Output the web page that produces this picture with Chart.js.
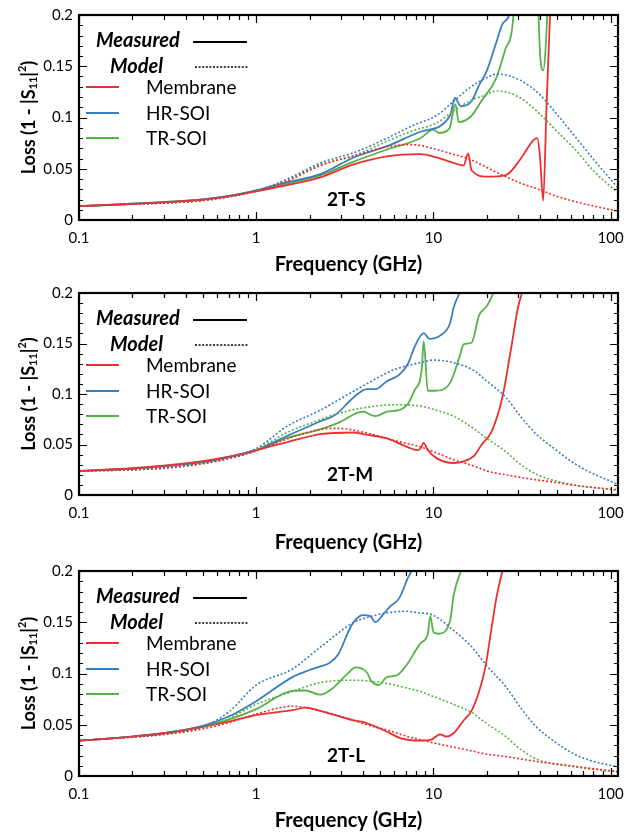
<!DOCTYPE html>
<html>
<head>
<meta charset="utf-8">
<script src="https://cdn.jsdelivr.net/npm/chart.js@4.4.1/dist/chart.umd.min.js"></script>
<style>
  html, body { margin: 0; padding: 0; background: #fff; }
  .panel { position: absolute; left: 0; width: 642px; height: 278px; }
</style>
</head>
<body>
<div class="panel" style="top:0px"><canvas id="chartS" width="642" height="278"></canvas></div>
<div class="panel" style="top:278px"><canvas id="chartM" width="642" height="278"></canvas></div>
<div class="panel" style="top:556px"><canvas id="chartL" width="642" height="278"></canvas></div>
<script>
// tick labels
const xTickLabels = [0.1, 1, 10, 100];
const yTickLabels = [0, 0.05, 0.1, 0.15, 0.2];
const seriesNames = ["Membrane", "HR-SOI", "TR-SOI"];
const seriesColors = ["#e8312f", "#3a7dbf", "#55b246"];

// ---- 2T-S ----
const sModelFreq = [0.1, 0.2, 0.3, 0.5, 0.7, 1, 1.5, 2.3, 3.55, 5.47, 7.6, 10.4, 13, 16, 18.6, 23, 31, 40, 48, 63, 81, 110];
const sModelMembrane = [0.0135, 0.0155, 0.0165, 0.019, 0.0225, 0.028, 0.038, 0.053, 0.0626, 0.0714, 0.0735, 0.0688, 0.064, 0.0594, 0.054, 0.046, 0.036, 0.0295, 0.024, 0.018, 0.0135, 0.0085];
const sModelHR = [0.0135, 0.0155, 0.0165, 0.019, 0.0228, 0.0285, 0.04, 0.0557, 0.0657, 0.0798, 0.092, 0.102, 0.1158, 0.129, 0.136, 0.1424, 0.1362, 0.122, 0.1064, 0.0814, 0.058, 0.0313];
const sModelTR = [0.0135, 0.0155, 0.0165, 0.019, 0.0226, 0.0283, 0.039, 0.054, 0.0626, 0.0767, 0.087, 0.0945, 0.1064, 0.116, 0.1205, 0.1258, 0.119, 0.1033, 0.0892, 0.0688, 0.047, 0.0266];
const sMeasFreqMembrane = [0.1, 0.2, 0.3, 0.5, 0.7, 1, 1.5, 2.3, 3.55, 5.47, 8.45, 10.4, 13, 14.8, 15.7, 16.4, 20, 25.6, 31, 36.8, 38.6, 40, 41.6, 43.5, 45.5, 47];
const sMeasMembrane = [0.0135, 0.0155, 0.0172, 0.0198, 0.023, 0.028, 0.034, 0.0416, 0.0542, 0.062, 0.0642, 0.061, 0.0557, 0.0532, 0.065, 0.0485, 0.0423, 0.0438, 0.0595, 0.0782, 0.0798, 0.0595, 0.0188, 0.113, 0.2, 0.26];
const sMeasFreqHR = [0.1, 0.2, 0.3, 0.5, 0.7, 1, 1.5, 2.3, 3.55, 5.47, 8.45, 12.4, 13.2, 14.3, 16.4, 18.1, 20, 22.5, 24.5, 26.7, 28];
const sMeasHR = [0.0135, 0.016, 0.0175, 0.0202, 0.0235, 0.029, 0.037, 0.0448, 0.061, 0.072, 0.0861, 0.1017, 0.119, 0.111, 0.1158, 0.1315, 0.1455, 0.172, 0.191, 0.2, 0.22];
const sMeasFreqTR = [0.1, 0.2, 0.3, 0.5, 0.7, 1, 1.5, 2.3, 3.55, 5.47, 8.45, 10, 10.7, 12.3, 13.3, 13.9, 16.4, 18.6, 22.5, 25.4, 28.3, 30, 38.5, 39.2, 41.6, 43.9, 46];
const sMeasTR = [0.0135, 0.016, 0.0175, 0.02, 0.0232, 0.0288, 0.0355, 0.0435, 0.057, 0.0688, 0.0798, 0.0883, 0.085, 0.0892, 0.113, 0.0955, 0.1017, 0.1158, 0.1377, 0.166, 0.2, 0.3, 0.3, 0.2, 0.146, 0.2, 0.3];

// ---- 2T-M ----
const mModelFreq = [0.1, 0.2, 0.3, 0.5, 0.7, 1, 1.5, 2.3, 2.9, 4.1, 6.0, 8.45, 10, 13, 17, 20, 25.6, 31, 38, 48, 60, 74, 110];
const mModelMembrane = [0.0238, 0.025, 0.0265, 0.031, 0.036, 0.0435, 0.0556, 0.065, 0.066, 0.0619, 0.054, 0.0476, 0.0429, 0.035, 0.0286, 0.0238, 0.02, 0.0175, 0.015, 0.0127, 0.01, 0.008, 0.0048];
const mModelHR = [0.0238, 0.025, 0.0268, 0.0315, 0.037, 0.046, 0.0683, 0.084, 0.094, 0.109, 0.124, 0.1311, 0.1336, 0.131, 0.123, 0.1127, 0.0968, 0.0778, 0.0603, 0.046, 0.0333, 0.0238, 0.0105];
const mModelTR = [0.0238, 0.025, 0.0266, 0.0312, 0.0365, 0.045, 0.062, 0.0746, 0.0808, 0.0865, 0.0893, 0.088, 0.0848, 0.078, 0.0654, 0.056, 0.0429, 0.0302, 0.0206, 0.0143, 0.0105, 0.008, 0.0054];
const mMeasFreqMembrane = [0.1, 0.2, 0.3, 0.5, 0.7, 1, 1.5, 2.3, 3.55, 4.1, 5.47, 7.1, 8.1, 8.45, 8.8, 9.3, 10.4, 13, 14.8, 17, 18.6, 21.3, 24.5, 27.3, 30, 32.2];
const mMeasMembrane = [0.0238, 0.0265, 0.029, 0.0335, 0.038, 0.0445, 0.0524, 0.0603, 0.0619, 0.06, 0.056, 0.0476, 0.0444, 0.046, 0.0517, 0.0444, 0.0365, 0.0317, 0.0333, 0.039, 0.0492, 0.063, 0.0968, 0.1429, 0.1857, 0.205];
const mMeasFreqHR = [0.1, 0.2, 0.3, 0.5, 0.7, 1, 1.5, 2.3, 2.8, 3.55, 4.2, 4.7, 5.47, 6.4, 7.2, 7.8, 8.8, 9.5, 10.9, 12.4, 13, 14.5];
const mMeasHR = [0.0238, 0.026, 0.0283, 0.0325, 0.0375, 0.0445, 0.0587, 0.073, 0.0794, 0.0968, 0.1048, 0.1048, 0.1127, 0.119, 0.1302, 0.146, 0.1603, 0.1546, 0.1578, 0.1698, 0.1857, 0.205];
const mMeasFreqTR = [0.1, 0.2, 0.3, 0.5, 0.7, 1, 1.5, 2.3, 2.9, 4.0, 4.7, 5.47, 6.4, 7.2, 7.8, 8.6, 8.8, 9.3, 10.2, 12.4, 14.1, 14.8, 16.4, 18.1, 20, 22.5];
const mMeasTR = [0.0238, 0.0262, 0.0286, 0.033, 0.0378, 0.0445, 0.0565, 0.065, 0.0714, 0.0825, 0.078, 0.0825, 0.084, 0.0905, 0.1032, 0.1254, 0.1524, 0.1032, 0.1032, 0.111, 0.138, 0.1492, 0.1508, 0.1778, 0.187, 0.205];

// ---- 2T-L ----
const lModelFreq = [0.1, 0.2, 0.3, 0.5, 0.7, 1, 1.6, 2.3, 3.55, 4.4, 5.47, 7.0, 8.45, 9.7, 13, 16.4, 20, 25.6, 31, 38, 48, 60, 74, 110];
const lModelMembrane = [0.0345, 0.038, 0.0405, 0.046, 0.052, 0.0605, 0.068, 0.0636, 0.0542, 0.049, 0.0448, 0.039, 0.0354, 0.0328, 0.0282, 0.0245, 0.0213, 0.019, 0.0166, 0.0142, 0.0119, 0.0098, 0.0078, 0.0041];
const lModelHR = [0.0345, 0.038, 0.041, 0.048, 0.0625, 0.0887, 0.1044, 0.1257, 0.1498, 0.1555, 0.1592, 0.1608, 0.159, 0.1577, 0.142, 0.1263, 0.1075, 0.0871, 0.0668, 0.048, 0.0338, 0.0229, 0.016, 0.0088];
const lModelTR = [0.0345, 0.038, 0.0405, 0.047, 0.056, 0.0699, 0.0824, 0.0912, 0.0934, 0.0925, 0.0903, 0.086, 0.0824, 0.0785, 0.0699, 0.0621, 0.0511, 0.0385, 0.026, 0.0166, 0.0119, 0.0095, 0.0072, 0.0041];
const lMeasFreqMembrane = [0.1, 0.2, 0.3, 0.5, 0.7, 1, 1.6, 1.9, 2.3, 3.55, 4.0, 5.47, 6.5, 8.45, 9.7, 10.9, 11.8, 13, 14.8, 16.4, 18.1, 19.7, 21.3, 22.8, 24.5];
const lMeasMembrane = [0.0345, 0.0385, 0.0417, 0.048, 0.053, 0.0595, 0.0642, 0.0668, 0.0636, 0.0542, 0.0527, 0.0432, 0.037, 0.0345, 0.0354, 0.0407, 0.0385, 0.0417, 0.0542, 0.0636, 0.0824, 0.1075, 0.145, 0.1764, 0.2];
const lMeasFreqHR = [0.1, 0.2, 0.3, 0.5, 0.7, 1, 1.6, 2.0, 2.3, 2.6, 2.9, 3.4, 3.65, 4.0, 4.4, 4.7, 5.2, 5.7, 6.4, 7.2, 7.7];
const lMeasHR = [0.0345, 0.0385, 0.0417, 0.049, 0.058, 0.073, 0.0965, 0.1034, 0.1069, 0.1106, 0.1185, 0.1451, 0.1529, 0.157, 0.156, 0.15, 0.1576, 0.1655, 0.1733, 0.1937, 0.203];
const lMeasFreqTR = [0.1, 0.2, 0.3, 0.5, 0.7, 1, 1.6, 1.9, 2.3, 2.7, 3.2, 3.65, 4.2, 4.5, 4.9, 5.47, 6.2, 7.0, 8.45, 9.3, 9.6, 10.0, 10.7, 12.4, 13, 14.3, 14.9];
const lMeasTR = [0.0345, 0.0385, 0.0417, 0.0485, 0.055, 0.0652, 0.083, 0.0834, 0.0793, 0.0856, 0.0981, 0.1059, 0.1012, 0.0918, 0.0887, 0.0965, 0.0981, 0.1075, 0.1294, 0.1388, 0.156, 0.1404, 0.1388, 0.151, 0.1764, 0.2, 0.205];

const FONT = "Lato, 'Open Sans', sans-serif";

function pts(xs, ys) {
    return xs.map((x, i) => ({ x: x, y: ys[i] }));
}

function makeDatasets(modelFreq, models, measFreqs, meas) {
    const sets = [];
    for (let i = 0; i < 3; i++) {
        sets.push({
            label: seriesNames[i] + " model",
            data: pts(modelFreq, models[i]),
            borderColor: seriesColors[i],
            borderWidth: 1.6,
            borderDash: [2, 2],
            pointRadius: 0,
            cubicInterpolationMode: "monotone",
            fill: false
        });
    }
    for (let i = 0; i < 3; i++) {
        sets.push({
            label: seriesNames[i],
            data: pts(measFreqs[i], meas[i]),
            borderColor: seriesColors[i],
            borderWidth: 1.8,
            pointRadius: 0,
            cubicInterpolationMode: "monotone",
            fill: false
        });
    }
    return sets;
}

// frame, inward ticks, y title with sub/superscript, legend, panel tag
const decorPlugin = {
    id: "decor",
    afterDraw(chart, args, opts) {
        const c = chart.ctx;
        const a = chart.chartArea;
        const xs = chart.scales.x, ys = chart.scales.y;
        c.save();
        c.strokeStyle = "#000";
        c.lineWidth = 1.2;
        c.beginPath();
        // y ticks every 0.01, major every 0.05
        for (let k = 0; k <= 20; k++) {
            const py = Math.round(ys.getPixelForValue(k * 0.01)) + 0.5;
            const len = k % 5 === 0 ? 8 : 4;
            c.moveTo(a.left, py); c.lineTo(a.left + len, py);
            c.moveTo(a.right, py); c.lineTo(a.right - len, py);
        }
        // x ticks 1..9 per decade
        for (let d = 0.1; d <= 100; d *= 10) {
            for (let m = 1; m <= 9; m++) {
                const v = d * m;
                if (v > 110) break;
                const px = Math.round(xs.getPixelForValue(v)) + 0.5;
                const len = m === 1 ? 8 : 5;
                c.moveTo(px, a.bottom); c.lineTo(px, a.bottom - len);
                c.moveTo(px, a.top); c.lineTo(px, a.top + len);
            }
        }
        c.stroke();
        c.lineWidth = 2.2;
        c.strokeRect(a.left, a.top, a.right - a.left, a.bottom - a.top);

        // y axis title
        c.fillStyle = "#000";
        c.translate(28, (a.top + a.bottom) / 2);
        c.rotate(-Math.PI / 2);
        const big = "bold 18px " + FONT, small = "bold 11px " + FONT;
        const parts = [["Loss (1 - |S", big, 0], ["11", small, 4], ["|", big, 0], ["2", small, -7], [")", big, 0]];
        let total = 0;
        parts.forEach(p => { c.font = p[1]; total += c.measureText(p[0]).width; });
        let cx = -total / 2;
        c.textBaseline = "middle";
        c.textAlign = "left";
        parts.forEach(p => {
            c.font = p[1];
            c.fillText(p[0], cx, 1 + p[2]);
            cx += c.measureText(p[0]).width;
        });
        c.setTransform(1, 0, 0, 1, 0, 0);

        // legend
        const top = a.top;
        c.textBaseline = "middle";
        c.font = "italic bold 20px " + FONT;
        c.fillText("Measured", 96, top + 26);
        c.fillText("Model", 110, top + 52);
        c.lineWidth = 1.8;
        c.strokeStyle = "#000";
        c.beginPath(); c.moveTo(193, top + 27); c.lineTo(247, top + 27); c.stroke();
        c.setLineDash([2, 1.6]);
        c.lineWidth = 1.5;
        c.beginPath(); c.moveTo(195, top + 52); c.lineTo(248, top + 52); c.stroke();
        c.setLineDash([]);
        c.font = "19px " + FONT;
        const rows = [72, 98, 123];
        for (let i = 0; i < 3; i++) {
            c.strokeStyle = seriesColors[i];
            c.lineWidth = 2;
            c.beginPath(); c.moveTo(86, top + rows[i]); c.lineTo(119, top + rows[i]); c.stroke();
            c.fillStyle = "#000";
            c.fillText(seriesNames[i], 146, top + rows[i] + 1);
        }
        // panel tag
        c.font = "bold 19px " + FONT;
        c.fillText(opts.tag, a.left + 248, a.bottom - 20);
        c.restore();
    }
};

function makeChart(id, tag, bottomPad, datasets) {
    return new Chart(document.getElementById(id), {
        type: "line",
        data: { datasets: datasets },
        plugins: [decorPlugin],
        options: {
            responsive: false,
            animation: false,
            devicePixelRatio: 1,
            layout: { padding: { top: 7, right: 24, left: 0, bottom: 0 } },
            plugins: {
                legend: { display: false },
                tooltip: { enabled: false },
                decor: { tag: tag }
            },
            scales: {
                x: {
                    type: "logarithmic",
                    min: 0.1,
                    max: 110,
                    grid: { display: false, drawTicks: false },
                    border: { display: false },
                    afterBuildTicks: s => { s.ticks = xTickLabels.map(v => ({ value: v })); },
                    afterFit: s => { s.height = bottomPad; },
                    ticks: {
                        color: "#000",
                        padding: 9,
                        maxRotation: 0,
                        autoSkip: false,
                        font: { family: FONT, size: 15 },
                        callback: v => String(v)
                    },
                    title: {
                        display: true,
                        text: "Frequency (GHz)",
                        color: "#000",
                        font: { family: FONT, size: 20, weight: "bold" },
                        padding: { top: 0, bottom: 1 }
                    }
                },
                y: {
                    min: 0,
                    max: 0.2,
                    grid: { display: false, drawTicks: false },
                    border: { display: false },
                    afterBuildTicks: s => { s.ticks = yTickLabels.map(v => ({ value: v })); },
                    afterFit: s => { s.width = 79; },
                    ticks: {
                        color: "#000",
                        padding: 6,
                        font: { family: FONT, size: 15 },
                        callback: v => String(+v.toFixed(2))
                    }
                }
            }
        }
    });
}

makeChart("chartS", "2T-S", 58,
    makeDatasets(sModelFreq, [sModelMembrane, sModelHR, sModelTR],
        [sMeasFreqMembrane, sMeasFreqHR, sMeasFreqTR], [sMeasMembrane, sMeasHR, sMeasTR]));
makeChart("chartM", "2T-M", 61,
    makeDatasets(mModelFreq, [mModelMembrane, mModelHR, mModelTR],
        [mMeasFreqMembrane, mMeasFreqHR, mMeasFreqTR], [mMeasMembrane, mMeasHR, mMeasTR]));
makeChart("chartL", "2T-L", 58,
    makeDatasets(lModelFreq, [lModelMembrane, lModelHR, lModelTR],
        [lMeasFreqMembrane, lMeasFreqHR, lMeasFreqTR], [lMeasMembrane, lMeasHR, lMeasTR]));
</script>
</body>
</html>
